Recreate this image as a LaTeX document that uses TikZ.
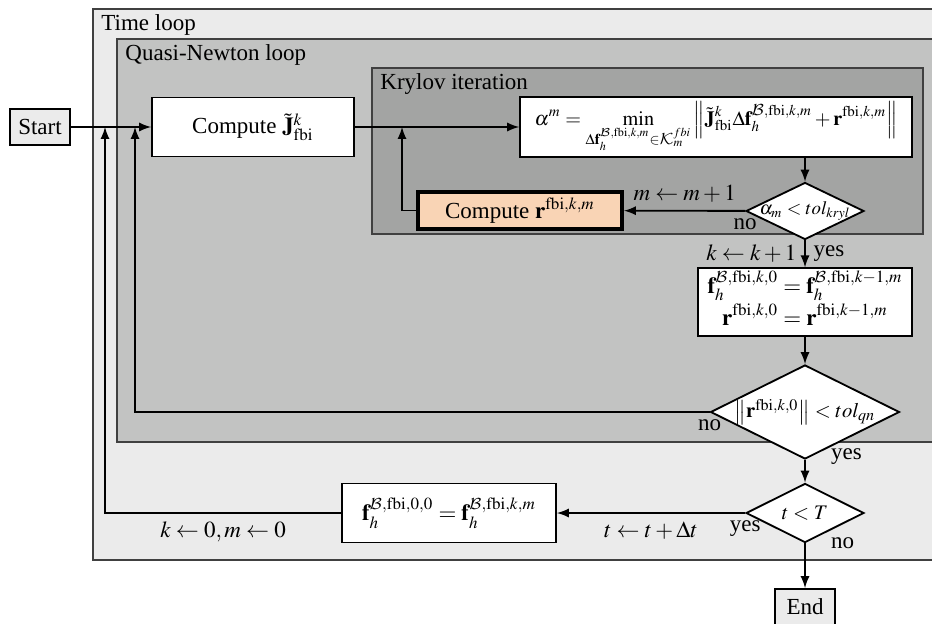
\documentclass[tikz,border=0pt]{standalone}
\usepackage{amsmath,amssymb}
\usepackage{mathptmx}
\usepackage[no-math]{fontspec}
\setmainfont{Liberation Serif}
\DeclareMathAlphabet{\mathcal}{OMS}{cmsy}{m}{n}
\usepackage{tikz}
\usetikzlibrary{shapes.geometric}

\definecolor{timegray}{HTML}{EBEBEB}
\definecolor{qngray}{HTML}{C2C3C2}
\definecolor{krygray}{HTML}{A3A4A3}
\definecolor{framegray}{HTML}{404040}
\definecolor{resorange}{HTML}{F9D4B5}
\tikzset{>=latex}

\begin{document}
\begin{tikzpicture}[x=0.435pt,y=-0.435pt,
	box/.style={draw, thick, fill=white, minimum height=25.7pt, inner sep=2pt},
	term/.style={draw, thick, fill=timegray, minimum width=26.1pt, minimum height=15.7pt},
	test/.style={diamond, draw, thick, fill=white, inner sep=-5pt, aspect=2, font=\fontsize{9}{10}\selectfont},
	flow/.style={->, thick},
	region/.style={draw=framegray, semithick}]
		\useasboundingbox (0,0) rectangle (932,623);
		% nested loops
		\filldraw[region, fill=timegray] (93,9) rectangle (945,560);
		\filldraw[region, fill=qngray] (117,39) rectangle (945,442);
		\filldraw[region, fill=krygray] (372,68) rectangle (923,234);
		\node[anchor=base west, inner sep=0pt] (timetitle) at (101,31) {Time loop};
		\node[anchor=base west, inner sep=0pt] (qntitle) at (125,61) {Quasi-Newton loop};
		\node[anchor=base west, inner sep=0pt] (krytitle) at (380,90) {Krylov iteration};
		% junctions of the return lines
		\coordinate (tjoin) at (105,127);
		\coordinate (qjoin) at (135,127);
		\coordinate (kjoin) at (402,127);
		% blocks
		\node[term] (start) at (40,127) {Start};
		\node[box, minimum width=87.9pt] (jac) at (253,127) {Compute $\tilde{\mathbf{J}}^k_{\mathrm{fbi}}$};
		\node[box, minimum width=170.5pt, font=\fontsize{8.8}{10.5}\selectfont] (alpha) at (716,127) {$\displaystyle \alpha^m = \min_{\Delta\mathbf{f}_h^{\mathcal{B},\mathrm{fbi},k,m}\in\mathcal{K}_m^{fbi}} \left\|\tilde{\mathbf{J}}^k_{\mathrm{fbi}}\Delta\mathbf{f}_h^{\mathcal{B},\mathrm{fbi},k,m} + \mathbf{r}^{\mathrm{fbi},k,m}\right\|$};
		\node[box, line width=1.8pt, fill=resorange, minimum width=88.7pt, minimum height=16.1pt] (res) at (520,210.5) {Compute $\mathbf{r}^{\mathrm{fbi},k,m}$};
		\node[test, minimum width=51.3pt, minimum height=24.8pt, font=\fontsize{8.2}{9}\selectfont] (kryl) at (805,211) {$\alpha_m < tol_{kryl}$};
		\node[box, minimum width=93.1pt, minimum height=28.7pt, inner sep=1pt] (upd) at (805,302) {$\begin{aligned}\mathbf{f}_h^{\mathcal{B},\mathrm{fbi},k,0} &= \mathbf{f}_h^{\mathcal{B},\mathrm{fbi},k-1,m}\\[-3pt] \mathbf{r}^{\mathrm{fbi},k,0} &= \mathbf{r}^{\mathrm{fbi},k-1,m}\end{aligned}$};
		\node[test, minimum width=82.2pt, minimum height=40.9pt] (qn) at (805,412) {$\bigl\|\mathbf{r}^{\mathrm{fbi},k,0}\bigr\| < tol_{qn}$};
		\node[test, minimum width=51.3pt, minimum height=25.7pt] (tend) at (805,513) {$t < T$};
		\node[box, minimum width=93.1pt] (reset) at (449,513) {$\mathbf{f}_h^{\mathcal{B},\mathrm{fbi},0,0} = \mathbf{f}_h^{\mathcal{B},\mathrm{fbi},k,m}$};
		\node[term] (end) at (805,607) {End};
		% connectors
		\draw[flow] (start) -- (jac);
		\draw[flow] (jac) -- (alpha);
		\draw[flow] (kryl.north |- alpha.south) -- (kryl.north);
		\draw[flow] (kryl) -- node[above] {$m \leftarrow m+1$} (res);
		\node[anchor=north] (krylno) at (kryl.west) {no};
		\draw[flow] (res.west) -| (kjoin);
		\draw[flow] (kryl) -- node[left] {$k \leftarrow k+1$} node[right] {yes} (upd);
		\draw[flow] (upd) -- (qn);
		\draw[flow] (qn.west) -| (qjoin);
		\node[anchor=north] (qnno) at (qn.west) {no};
		\draw[flow] (qn) -- (tend);
		\node[anchor=west] (qnyes) at ([shift={(18,-3)}]qn.south) {yes};
		\draw[flow] (tend) -- node[below] {$t \leftarrow t+\Delta t$} (reset);
		\node[anchor=north] (tendyes) at (tend.west) {yes};
		\draw[flow] (tend) -- (end);
		\node[anchor=west] (tendno) at ([shift={(18,0)}]tend.south) {no};
		\draw[flow] (reset.west) -| node[pos=0.25, below] {$k \leftarrow 0, m \leftarrow 0$} (tjoin);
\end{tikzpicture}
\end{document}
